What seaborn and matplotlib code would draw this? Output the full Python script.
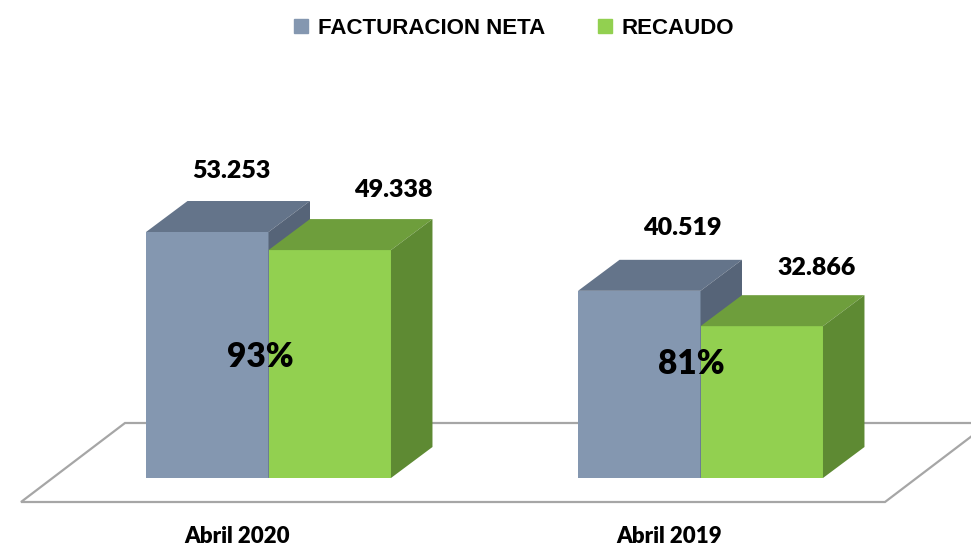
import numpy as np
import pandas as pd
import matplotlib
matplotlib.use("Agg")
import matplotlib.pyplot as plt
from matplotlib.patches import Polygon, Rectangle
from matplotlib.lines import Line2D
import seaborn as sns

# ---- data -------------------------------------------------------------
periodos = ["Abril 2020", "Abril 2019"]
series = ["FACTURACION NETA", "RECAUDO"]
facturacion = [53253, 40519]
recaudo = [49338, 32866]

# ---- styling ----------------------------------------------------------
front_colors = {"FACTURACION NETA": "#8497B0", "RECAUDO": "#92D050"}
top_colors = {"FACTURACION NETA": "#64748A", "RECAUDO": "#6E9E3C"}
side_colors = {"FACTURACION NETA": "#566478", "RECAUDO": "#5E8A33"}

BAR_DEPTH = (41.5, 31.0)        # pixel offset of the back face of a bar
FLOOR_FRONT = (-31.5, -24.0)    # pixel offset of the floor's front edge
FLOOR_BACK = (72.5, 55.0)       # pixel offset of the floor's back edge

# label nudges (pixels) relative to the top-centre of each front face
value_nudge = {
    ("Abril 2020", "FACTURACION NETA"): (24, 54),
    ("Abril 2020", "RECAUDO"): (64, 53),
    ("Abril 2019", "FACTURACION NETA"): (43.5, 56),
    ("Abril 2019", "RECAUDO"): (54.5, 51),
}
pct_nudge = {"Abril 2020": (-8, 111), "Abril 2019": (-9, 104)}

df = pd.DataFrame({
    "periodo": periodos * 2,
    "serie": [series[0]] * len(periodos) + [series[1]] * len(periodos),
    "valor": facturacion + recaudo,
})

sns.set_theme(style="white")
plt.rcParams["font.family"] = ["Lato", "DejaVu Sans"]
plt.rcParams["text.color"] = "black"

W, H, DPI = 971, 548, 100
fig = plt.figure(figsize=(W / DPI, H / DPI), dpi=DPI)
ax = fig.add_axes([0, 0, 1, 1])

sns.barplot(
    data=df, x="periodo", y="valor", hue="serie", order=periodos,
    hue_order=series, palette=[front_colors[s] for s in series],
    width=0.567, gap=0, saturation=1, legend=False, ax=ax,
    edgecolor="none", linewidth=0,
)
bars = sorted([p for p in ax.patches if isinstance(p, Rectangle) and p.get_height() > 0],
              key=lambda p: p.get_x())

# axis scaling: 432 px per category, baseline 70 px from the bottom
px_per_cat = 432.0
px_per_val = 246.0 / max(facturacion)
ax.set_xlim(-268.5 / px_per_cat, (W - 268.5) / px_per_cat)
ax.set_ylim(-70 / px_per_val, (H - 70) / px_per_val)
ax.axis("off")


def shift(x, y, dx, dy):
    """Move a data point by (dx, dy) pixels, returning data coordinates."""
    X, Y = ax.transData.transform((x, y))
    return tuple(ax.transData.inverted().transform((X + dx, Y + dy)))


# floor parallelogram
fl, fr = -0.5, len(periodos) - 0.5
floor = [shift(fl, 0, *FLOOR_FRONT), shift(fr, 0, *FLOOR_FRONT),
         shift(fr, 0, *FLOOR_BACK), shift(fl, 0, *FLOOR_BACK)]
ax.add_patch(Polygon(floor, closed=True, facecolor="white",
                     edgecolor="#A6A6A6", linewidth=1.6, zorder=0.5))

# series of each bar, keyed by (category, value)
lookup = {}
for s, vals in zip(series, [facturacion, recaudo]):
    for per, v in zip(periodos, vals):
        lookup[(per, v)] = s

# 3D faces for every bar, drawn left to right
z = 2.0
for bar in bars:
    x0, w, h = bar.get_x(), bar.get_width(), bar.get_height()
    cat = periodos[int(np.floor(x0 + w / 2 + 0.5))]
    s = lookup[(cat, h)]
    bar.set_zorder(z)
    top = [(x0, h), (x0 + w, h), shift(x0 + w, h, *BAR_DEPTH), shift(x0, h, *BAR_DEPTH)]
    side = [(x0 + w, 0), shift(x0 + w, 0, *BAR_DEPTH), shift(x0 + w, h, *BAR_DEPTH), (x0 + w, h)]
    ax.add_patch(Polygon(top, closed=True, facecolor=top_colors[s],
                         edgecolor="none", zorder=z + 0.01))
    ax.add_patch(Polygon(side, closed=True, facecolor=side_colors[s],
                         edgecolor="none", zorder=z + 0.02))
    dx, dy = value_nudge[(cat, s)]
    ax.annotate(f"{h:,.0f}".replace(",", "."), (x0 + w / 2, h),
                xytext=(dx, dy), textcoords="offset pixels",
                ha="center", va="baseline", fontsize=18, fontweight="heavy",
                color="black", zorder=10)
    z += 1

for i, per in enumerate(periodos):
    # collection ratio over each group
    pct = recaudo[i] / facturacion[i] * 100
    dx, dy = pct_nudge[per]
    ax.annotate(f"{pct:.0f}%", (i, 0), xytext=(dx, dy), textcoords="offset pixels",
                ha="center", va="baseline", fontsize=24, fontweight="heavy",
                color="black", zorder=10)
    # category label on the floor's front edge
    ax.annotate(per, (i, 0), xytext=(FLOOR_FRONT[0], -65), textcoords="offset pixels",
                ha="center", va="baseline", fontsize=16, fontweight="heavy",
                color="black", zorder=10)

# legend across the top
handles = [Line2D([], [], marker="s", linestyle="none", markersize=10.5,
                  markerfacecolor=front_colors[s], markeredgecolor=front_colors[s])
           for s in series]
fig.legend(handles, series, loc="center", bbox_to_anchor=(512 / W, 1 - 28 / H),
           ncol=2, frameon=False, handletextpad=0.25, columnspacing=2.2,
           handlelength=1.0, labelcolor="black",
           prop={"family": "Liberation Sans", "weight": "bold", "size": 16})

fig.savefig("out.png", dpi=DPI)
